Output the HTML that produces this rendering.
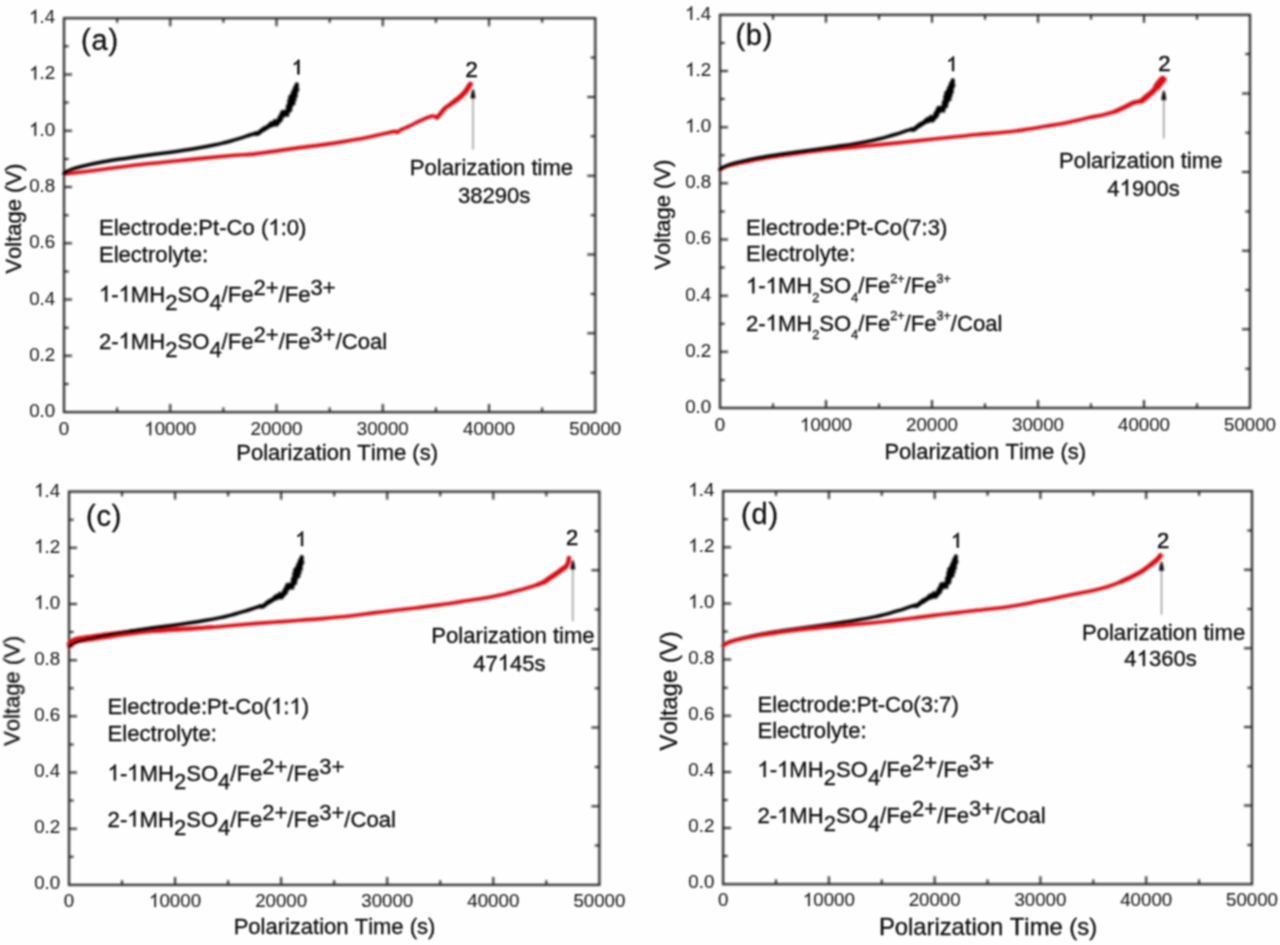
<!DOCTYPE html>
<html lang="en"><head><meta charset="utf-8"><title>Polarization curves</title>
<style>
html,body{margin:0;padding:0;background:#fefefe;}
body{width:1280px;height:945px;overflow:hidden;font-family:"Liberation Sans", sans-serif;}
svg{display:block;}
text{font-kerning:none;white-space:pre;}
</style></head><body>
<svg width="1280" height="945" viewBox="0 0 1280 945" font-family='"Liberation Sans", sans-serif' style="font-kerning:none">
<defs><filter id="soft" x="-2%" y="-2%" width="104%" height="104%"><feGaussianBlur stdDeviation="0.9"/></filter><filter id="softtext" x="-1%" y="-1%" width="102%" height="102%"><feConvolveMatrix order="3" kernelMatrix="1 2 1 2 4 2 1 2 1" divisor="16" edgeMode="none" preserveAlpha="false" result="a"/><feConvolveMatrix in="a" order="3" kernelMatrix="0 1 0 1 4 1 0 1 0" divisor="8" edgeMode="none" preserveAlpha="false"/></filter></defs>
<rect width="1280" height="945" fill="#fefefe"/>
<g filter="url(#soft)">
<g id="panel-a"><path d="M117.13 412.1 v-4.6 M117.13 18.2 v4.6 M170.26 412.1 v-8 M170.26 18.2 v8 M223.39 412.1 v-4.6 M223.39 18.2 v4.6 M276.52 412.1 v-8 M276.52 18.2 v8 M329.65 412.1 v-4.6 M329.65 18.2 v4.6 M382.78 412.1 v-8 M382.78 18.2 v8 M435.91 412.1 v-4.6 M435.91 18.2 v4.6 M489.04 412.1 v-8 M489.04 18.2 v8 M542.17 412.1 v-4.6 M542.17 18.2 v4.6 M64 383.96 h4.6 M64 355.83 h8 M64 327.69 h4.6 M64 299.56 h8 M64 271.42 h4.6 M64 243.29 h8 M64 215.15 h4.6 M64 187.01 h8 M64 158.88 h4.6 M64 130.74 h8 M64 102.61 h4.6 M64 74.47 h8 M64 46.34 h4.6 M595.3 372.71 h-4.6 M595.3 333.32 h-8 M595.3 293.93 h-4.6 M595.3 254.54 h-8 M595.3 215.15 h-4.6 M595.3 175.76 h-8 M595.3 136.37 h-4.6 M595.3 96.98 h-8 M595.3 57.59 h-4.6" stroke="#262626" stroke-width="2" fill="none"/>
<rect x="64" y="18.2" width="531.3" height="393.9" fill="none" stroke="#262626" stroke-width="2.2"/>
<path d="M64.2 174 C66.83 173.7 73.4 173 80 172.2 C86.6 171.4 92.55 170.6 103.8 169.2 C115.05 167.8 132.92 165.43 147.5 163.8 C162.08 162.17 176.72 160.83 191.3 159.4 C205.88 157.97 225.17 156.03 235 155.2 C244.83 154.37 243 155.17 250.3 154.4 C257.6 153.63 270.52 151.73 278.8 150.6 C287.08 149.47 292.82 148.55 300 147.6 C307.18 146.65 314.61 145.9 321.9 144.9 C329.19 143.9 336.47 142.8 343.75 141.6 C351.03 140.4 358.31 139.15 365.6 137.7 C372.89 136.25 382.57 133.95 387.5 132.9 C392.43 131.85 393.55 131.47 395.2 131.4 C396.85 131.33 396.5 132.75 397.4 132.5 C398.3 132.25 398.6 130.97 400.6 129.9 C402.6 128.83 406.12 127.65 409.4 126.1 C412.68 124.55 416.65 122.23 420.3 120.6 C423.95 118.97 428.93 117.02 431.3 116.3 C433.67 115.58 433.57 116.07 434.5 116.3 C435.43 116.53 435.98 118.03 436.9 117.7 C437.82 117.37 438.65 115.88 440 114.3 C441.35 112.72 443.38 109.77 445 108.2 C446.62 106.63 448.13 106.03 449.7 104.9 C451.27 103.77 452.83 102.57 454.4 101.4 C455.97 100.23 457.54 99.22 459.1 97.9 C460.66 96.58 462.5 94.82 463.75 93.5 C465 92.18 465.51 91.55 466.6 90 C467.69 88.45 469.68 85.17 470.3 84.2" stroke="#db0d14" stroke-width="3.6" fill="none" stroke-linejoin="round" stroke-linecap="round"/><path d="M436.9 117.7 C437.42 117.13 438.65 115.88 440 114.3 C441.35 112.72 443.38 109.77 445 108.2 C446.62 106.63 448.13 106.03 449.7 104.9 C451.27 103.77 452.83 102.57 454.4 101.4 C455.97 100.23 457.54 99.22 459.1 97.9 C460.66 96.58 462.5 94.82 463.75 93.5 C465 92.18 465.51 91.55 466.6 90 C467.69 88.45 469.68 85.17 470.3 84.2" stroke="#db0d14" stroke-width="4.3" fill="none" stroke-linejoin="round" stroke-linecap="round"/><path d="M454.4 101.4 C455.18 100.82 457.54 99.22 459.1 97.9 C460.66 96.58 462.5 94.82 463.75 93.5 C465 92.18 465.51 91.55 466.6 90 C467.69 88.45 469.68 85.17 470.3 84.2" stroke="#db0d14" stroke-width="5" fill="none" stroke-linejoin="round" stroke-linecap="round"/><path d="M64 173.5 C64.5 173.15 65.75 172.08 67 171.4 C68.25 170.72 69.1 170.22 71.5 169.4 C73.9 168.58 76.1 167.77 81.4 166.5 C86.7 165.23 96.02 163.15 103.3 161.8 C110.58 160.45 117.82 159.48 125.1 158.4 C132.38 157.32 139.7 156.3 147 155.3 C154.3 154.3 162.73 153.25 168.9 152.4 C175.07 151.55 178.88 150.98 184 150.2 C189.12 149.42 194.39 148.6 199.6 147.7 C204.81 146.8 211.18 145.62 215.25 144.8 C219.32 143.98 221.39 143.43 224 142.8 C226.61 142.17 228.4 141.7 230.9 141 C233.4 140.3 236.4 139.4 239 138.6 C241.6 137.8 244.42 136.88 246.5 136.2 C248.58 135.52 250.08 134.95 251.5 134.5 C252.92 134.05 254.42 133.67 255 133.5" stroke="#050505" stroke-width="3.5" fill="none" stroke-linejoin="round" stroke-linecap="round"/><path d="M255 133.5 L257.6 133.7 L259.6 132.3 L261.9 130.3 L266.6 127.4 L272.4 124.1 L275.6 122.7 L277.4 122.5 L279.4 119.8 L281.7 115.4 L283.4 112.9 L285 113.3 L286.6 113.5 L289.2 108.2 L291.8 101.2 L293.1 96.6 L295.3 91.5 L296.9 83.9" stroke="#050505" stroke-width="3.4" fill="none" stroke-linejoin="round" stroke-linecap="round"/><path d="M254.85 135.39 L256.15 135.53 L258.1 135.57 L259.76 134.52 L260.95 133.76 L261.94 132.78 L262.83 132.01 L263.89 131.54 L265.08 131.06 L266.14 130.31 L267.08 129.4 L268.34 129.04 L269.32 128.17 L270.36 127.38 L271.78 127.24 L272.96 126.8 L274.02 126.32 L275.15 125.87 L276.41 126.54 L277.52 126.16 L279.23 124.24 L280.32 122.54 L281.72 121.75 L282.36 120.35 L283.13 119.22 L282.63 117.49 L284.41 117.14 L285.43 116.49 L284.5 115.21 L284.13 117.04 L285.09 115.7 L288.61 116.65 L289.22 113.24 L289.82 112.08 L291.64 111.52 L291.9 110.11 L291.88 108.52 L292.34 107.24 L292.86 106.05 L293.58 104.93 L295.48 104.25 L294.87 102.52 L295.15 101.11 L296.72 100.18 L295.72 98.57 L296.27 97.6 L297.7 97.01 L297.21 95.39 L297.19 93.96 L297.87 92.58 L298.22 91.05 L299.35 89.91 L298.64 88.43 L298.27 87.03 L298.56 85.76 L298.48 84.42 L298.48 84.23 L295.32 83.57 L295.24 83.73 L294.64 84.94 L294.41 86.21 L293.05 87.26 L293.11 88.6 L292.68 89.79 L291.92 90.59 L291.36 91.44 L291.55 92.95 L290.41 93.87 L289.96 95.31 L288.23 96.39 L288.53 97.86 L288.67 99.22 L287.49 100.05 L287.32 101.22 L287.91 102.82 L287.29 103.98 L286.53 105.09 L286.05 106.2 L286.16 107.48 L286.14 108.82 L285.82 110.12 L284.98 111.15 L284.88 110.52 L285.78 110.54 L284.13 110.09 L281.04 110.65 L280.22 112.98 L279.48 114.23 L279.19 115.69 L277.88 116.47 L277.83 117.86 L277.16 118.75 L276.84 119.97 L276.15 120.25 L275.57 119.28 L274.08 119.17 L273.1 121.19 L271.58 121.19 L270.36 122 L269.1 122.53 L268.28 123.72 L267.3 124.63 L266.25 125.43 L265.11 126.14 L263.8 126.52 L262.65 127.13 L261.73 128.19 L260.42 128.85 L259.42 129.88 L258.46 130.62 L257.53 131.36 L257.08 131.82 L256.44 131.69 L255.15 131.61 Z" fill="#050505" stroke="#050505" stroke-width="0.6" stroke-linejoin="round"/>
<path d="M473 149.5 V95.4" stroke="#6e6e6e" stroke-width="1.05" fill="none"/>
<path d="M473 88.4 q1.9 2.4 2.4 10.2 h-4.8 q0.5 -7.8 2.4 -10.2 z" fill="#0c0c0c"/></g>
<g id="panel-b"><path d="M773 408 v-4.6 M773 14.8 v4.6 M826 408 v-8 M826 14.8 v8 M879 408 v-4.6 M879 14.8 v4.6 M932 408 v-8 M932 14.8 v8 M985 408 v-4.6 M985 14.8 v4.6 M1038 408 v-8 M1038 14.8 v8 M1091 408 v-4.6 M1091 14.8 v4.6 M1144 408 v-8 M1144 14.8 v8 M1197 408 v-4.6 M1197 14.8 v4.6 M720 379.91 h4.6 M720 351.83 h8 M720 323.74 h4.6 M720 295.66 h8 M720 267.57 h4.6 M720 239.49 h8 M720 211.4 h4.6 M720 183.31 h8 M720 155.23 h4.6 M720 127.14 h8 M720 99.06 h4.6 M720 70.97 h8 M720 42.89 h4.6 M1250 368.68 h-4.6 M1250 329.36 h-8 M1250 290.04 h-4.6 M1250 250.72 h-8 M1250 211.4 h-4.6 M1250 172.08 h-8 M1250 132.76 h-4.6 M1250 93.44 h-8 M1250 54.12 h-4.6" stroke="#262626" stroke-width="2" fill="none"/>
<rect x="720" y="14.8" width="530" height="393.2" fill="none" stroke="#262626" stroke-width="2.2"/>
<path d="M720 169.6 C720.67 169.23 722.67 168.03 724 167.4 C725.33 166.77 725.85 166.4 728 165.8 C730.15 165.2 731.77 164.9 736.9 163.8 C742.02 162.7 751.47 160.53 758.75 159.2 C766.03 157.87 773.31 156.88 780.6 155.8 C787.89 154.72 795.2 153.68 802.5 152.7 C809.8 151.72 817.1 150.7 824.4 149.9 C831.7 149.1 839.02 148.58 846.3 147.9 C853.58 147.22 860.82 146.52 868.1 145.8 C875.38 145.08 882.7 144.33 890 143.6 C897.3 142.87 904.61 142.17 911.9 141.4 C919.19 140.63 926.47 139.77 933.75 139 C941.03 138.23 948.31 137.55 955.6 136.8 C962.89 136.05 969.78 135.22 977.5 134.5 C985.22 133.78 994.19 133.27 1001.9 132.5 C1009.61 131.73 1016.47 130.93 1023.75 129.9 C1031.03 128.87 1038.31 127.55 1045.6 126.3 C1052.89 125.05 1060.2 123.85 1067.5 122.4 C1074.8 120.95 1083.2 118.92 1089.4 117.6 C1095.6 116.28 1100.33 115.55 1104.7 114.5 C1109.07 113.45 1112.32 112.5 1115.6 111.3 C1118.88 110.1 1121.48 108.7 1124.4 107.3 C1127.32 105.9 1130.75 103.85 1133.1 102.9 C1135.45 101.95 1137.03 101.96 1138.5 101.6 C1139.97 101.24 1140.6 101.52 1141.9 100.75 C1143.2 99.98 1144.48 98.53 1146.3 97 C1148.12 95.47 1150.98 93.38 1152.8 91.6 C1154.62 89.82 1155.92 87.9 1157.2 86.3 C1158.48 84.7 1159.6 83.12 1160.5 82 C1161.4 80.88 1162.25 80 1162.6 79.6" stroke="#db0d14" stroke-width="3.6" fill="none" stroke-linejoin="round" stroke-linecap="round"/><path d="M1115.6 111.3 C1117.07 110.63 1121.48 108.7 1124.4 107.3 C1127.32 105.9 1130.75 103.85 1133.1 102.9 C1135.45 101.95 1137.03 101.96 1138.5 101.6 C1139.97 101.24 1140.6 101.52 1141.9 100.75 C1143.2 99.98 1144.48 98.53 1146.3 97 C1148.12 95.47 1150.98 93.38 1152.8 91.6 C1154.62 89.82 1155.92 87.9 1157.2 86.3 C1158.48 84.7 1159.6 83.12 1160.5 82 C1161.4 80.88 1162.25 80 1162.6 79.6" stroke="#db0d14" stroke-width="4.5" fill="none" stroke-linejoin="round" stroke-linecap="round"/><path d="M1141.9 100.75 C1142.63 100.12 1144.48 98.53 1146.3 97 C1148.12 95.47 1150.98 93.38 1152.8 91.6 C1154.62 89.82 1155.92 87.9 1157.2 86.3 C1158.48 84.7 1159.6 83.12 1160.5 82 C1161.4 80.88 1162.25 80 1162.6 79.6" stroke="#db0d14" stroke-width="5.6" fill="none" stroke-linejoin="round" stroke-linecap="round"/><path d="M1157.2 86.3 C1157.75 85.58 1159.6 83.12 1160.5 82 C1161.4 80.88 1162.25 80 1162.6 79.6" stroke="#db0d14" stroke-width="7.4" fill="none" stroke-linejoin="round" stroke-linecap="round"/><path d="M720 169.4 C720.5 169.05 721.75 167.98 723 167.3 C724.25 166.62 725.1 166.12 727.5 165.3 C729.9 164.48 732.1 163.67 737.4 162.4 C742.7 161.13 752.02 159.05 759.3 157.7 C766.58 156.35 773.82 155.38 781.1 154.3 C788.38 153.22 795.7 152.2 803 151.2 C810.3 150.2 818.73 149.15 824.9 148.3 C831.07 147.45 834.88 146.88 840 146.1 C845.12 145.32 850.39 144.5 855.6 143.6 C860.81 142.7 867.18 141.52 871.25 140.7 C875.32 139.88 877.39 139.33 880 138.7 C882.61 138.07 884.4 137.6 886.9 136.9 C889.4 136.2 892.4 135.3 895 134.5 C897.6 133.7 900.42 132.78 902.5 132.1 C904.58 131.42 906.08 130.85 907.5 130.4 C908.92 129.95 910.42 129.57 911 129.4" stroke="#050505" stroke-width="3.5" fill="none" stroke-linejoin="round" stroke-linecap="round"/><path d="M911 129.4 L913.6 129.6 L915.6 128.2 L917.9 126.2 L922.6 123.3 L928.4 120 L931.6 118.6 L933.4 118.4 L935.4 115.7 L937.7 111.3 L939.4 108.8 L941 109.2 L942.6 109.4 L945.2 104.1 L947.8 97.1 L949.1 92.5 L951.3 87.4 L952.9 79.8" stroke="#050505" stroke-width="3.4" fill="none" stroke-linejoin="round" stroke-linecap="round"/><path d="M910.85 131.29 L912.15 131.43 L914.1 131.47 L915.76 130.42 L916.95 129.66 L917.94 128.68 L918.83 127.91 L919.89 127.44 L921.08 126.96 L922.14 126.21 L923.08 125.3 L924.34 124.94 L925.32 124.07 L926.36 123.28 L927.78 123.14 L928.96 122.7 L930.02 122.22 L931.15 121.77 L932.41 122.44 L933.52 122.06 L935.23 120.14 L936.32 118.44 L937.72 117.65 L938.36 116.25 L939.13 115.12 L938.63 113.39 L940.41 113.04 L941.43 112.39 L940.5 111.11 L940.13 112.94 L941.09 111.6 L944.61 112.55 L945.22 109.14 L945.82 107.98 L947.64 107.42 L947.9 106.01 L947.88 104.42 L948.34 103.14 L948.86 101.95 L949.58 100.83 L951.48 100.15 L950.87 98.42 L951.15 97.01 L952.72 96.08 L951.72 94.47 L952.27 93.5 L953.7 92.91 L953.21 91.29 L953.19 89.86 L953.87 88.48 L954.22 86.95 L955.35 85.81 L954.64 84.33 L954.27 82.93 L954.56 81.66 L954.48 80.32 L954.48 80.13 L951.32 79.47 L951.24 79.63 L950.64 80.84 L950.41 82.11 L949.05 83.16 L949.11 84.5 L948.68 85.69 L947.92 86.49 L947.36 87.34 L947.55 88.85 L946.41 89.77 L945.96 91.21 L944.23 92.29 L944.53 93.76 L944.67 95.12 L943.49 95.95 L943.32 97.12 L943.91 98.72 L943.29 99.88 L942.53 100.99 L942.05 102.1 L942.16 103.38 L942.14 104.72 L941.82 106.02 L940.98 107.05 L940.88 106.42 L941.78 106.44 L940.13 105.99 L937.04 106.55 L936.22 108.88 L935.48 110.13 L935.19 111.59 L933.88 112.37 L933.83 113.76 L933.16 114.65 L932.84 115.87 L932.15 116.15 L931.57 115.18 L930.08 115.07 L929.1 117.09 L927.58 117.09 L926.36 117.9 L925.1 118.43 L924.28 119.62 L923.3 120.53 L922.25 121.33 L921.11 122.04 L919.8 122.42 L918.65 123.03 L917.73 124.09 L916.42 124.75 L915.42 125.78 L914.46 126.52 L913.53 127.26 L913.08 127.72 L912.44 127.59 L911.15 127.51 Z" fill="#050505" stroke="#050505" stroke-width="0.6" stroke-linejoin="round"/>
<path d="M1163.8 138.6 V97" stroke="#6e6e6e" stroke-width="1.05" fill="none"/>
<path d="M1163.8 90 q1.9 2.4 2.4 10.2 h-4.8 q0.5 -7.8 2.4 -10.2 z" fill="#0c0c0c"/></g>
<g id="panel-c"><path d="M122.04 884.9 v-4.6 M122.04 491.6 v4.6 M175.08 884.9 v-8 M175.08 491.6 v8 M228.12 884.9 v-4.6 M228.12 491.6 v4.6 M281.16 884.9 v-8 M281.16 491.6 v8 M334.2 884.9 v-4.6 M334.2 491.6 v4.6 M387.24 884.9 v-8 M387.24 491.6 v8 M440.28 884.9 v-4.6 M440.28 491.6 v4.6 M493.32 884.9 v-8 M493.32 491.6 v8 M546.36 884.9 v-4.6 M546.36 491.6 v4.6 M69 856.81 h4.6 M69 828.71 h8 M69 800.62 h4.6 M69 772.53 h8 M69 744.44 h4.6 M69 716.34 h8 M69 688.25 h4.6 M69 660.16 h8 M69 632.06 h4.6 M69 603.97 h8 M69 575.88 h4.6 M69 547.79 h8 M69 519.69 h4.6 M599.4 845.57 h-4.6 M599.4 806.24 h-8 M599.4 766.91 h-4.6 M599.4 727.58 h-8 M599.4 688.25 h-4.6 M599.4 648.92 h-8 M599.4 609.59 h-4.6 M599.4 570.26 h-8 M599.4 530.93 h-4.6" stroke="#262626" stroke-width="2" fill="none"/>
<rect x="69" y="491.6" width="530.4" height="393.3" fill="none" stroke="#262626" stroke-width="2.2"/>
<path d="M71.8 648.21 L73.42 646.02 L74.9 644.53 L76.84 643.72 L79.26 643.11 L82.06 642.76 L85.07 642.32 L88.04 641.87 L91.01 641.43 L93.98 640.98 L96.94 640.54 L99.91 640.09 L102.86 639.61 L105.81 639.15 L108.77 638.69 L111.74 638.24 L114.7 637.78 L117.67 637.33 L120.63 636.87 L123.59 636.42 L126.51 635.99 L129.45 635.63 L132.43 635.27 L135.41 634.91 L138.39 634.55 L141.37 634.19 L144.34 633.83 L147.26 633.47 L150.19 633.25 L153.17 633.05 L156.16 632.85 L159.15 632.65 L162.15 632.45 L165.14 632.25 L168.14 632.05 L171.14 631.83 L174.14 631.61 L177.13 631.38 L180.12 631.15 L183.12 630.92 L186.11 630.7 L189.1 630.47 L192.11 630.23 L195.11 629.94 L198.1 629.66 L201.09 629.38 L204.07 629.09 L207.06 628.81 L210.05 628.54 L213.04 628.29 L213.22 628.27 L212.98 625.13 L212.79 625.14 L209.8 625.36 L206.81 625.55 L203.81 625.73 L200.82 625.92 L197.82 626.1 L194.83 626.29 L191.85 626.47 L188.87 626.61 L185.87 626.74 L182.88 626.86 L179.88 626.99 L176.88 627.12 L173.88 627.25 L170.89 627.37 L167.9 627.49 L164.91 627.59 L161.91 627.69 L158.91 627.79 L155.91 627.89 L152.91 627.99 L149.9 628.09 L146.84 628.23 L143.79 628.5 L140.8 628.76 L137.81 629.03 L134.82 629.29 L131.83 629.56 L128.84 629.83 L125.82 630.1 L122.79 630.45 L119.8 630.81 L116.82 631.17 L113.84 631.53 L110.87 631.89 L107.89 632.25 L104.9 632.61 L101.91 632.99 L98.93 633.38 L95.96 633.79 L92.99 634.22 L90.02 634.64 L87.05 635.07 L84.08 635.49 L81.15 635.91 L78 636.29 L74.6 637.14 L71.04 638.73 L68.19 641.38 L66.2 643.99 Z" fill="#db0d14"/><path d="M69 646.6 C69.27 646.23 69.92 645.17 70.6 644.4 C71.28 643.63 72.03 642.67 73.1 642 C74.17 641.33 75.53 640.77 77 640.4 C78.47 640.03 79.27 640.17 81.9 639.8 C84.53 639.43 89.16 638.73 92.8 638.2 C96.44 637.67 98.28 637.37 103.75 636.6 C109.22 635.83 118.31 634.48 125.6 633.6 C132.89 632.72 140.2 631.87 147.5 631.3 C154.8 630.73 162.1 630.6 169.4 630.2 C176.7 629.8 184.02 629.4 191.3 628.9 C198.58 628.4 205.82 627.82 213.1 627.2 C220.38 626.58 227.7 625.83 235 625.2 C242.3 624.57 249.61 623.95 256.9 623.4 C264.19 622.85 271.47 622.43 278.75 621.9 C286.03 621.37 293.31 620.75 300.6 620.2 C307.89 619.65 313.95 619.33 322.5 618.6 C331.05 617.87 343.36 616.75 351.9 615.8 C360.44 614.85 366.47 613.82 373.75 612.9 C381.03 611.98 388.31 611.17 395.6 610.3 C402.89 609.43 410.2 608.6 417.5 607.7 C424.8 606.8 432.1 605.92 439.4 604.9 C446.7 603.88 454.02 602.7 461.3 601.6 C468.58 600.5 475.82 599.58 483.1 598.3 C490.38 597.02 499.53 595.1 505 593.9 C510.47 592.7 512.25 592.08 515.9 591.1 C519.55 590.12 523.25 589.1 526.9 588 C530.55 586.9 534.88 585.52 537.8 584.5 C540.72 583.48 542.57 582.85 544.4 581.9 C546.23 580.95 546.93 580.05 548.75 578.8 C550.57 577.55 553.11 575.93 555.3 574.4 C557.49 572.87 560.15 570.87 561.9 569.6 C563.65 568.33 564.85 567.77 565.8 566.8 C566.75 565.83 567.15 564.8 567.6 563.8 C568.05 562.8 568.28 561.8 568.5 560.8 C568.72 559.8 568.83 558.3 568.9 557.8" stroke="#db0d14" stroke-width="3.6" fill="none" stroke-linejoin="round" stroke-linecap="round"/><path d="M537.8 584.5 C538.9 584.07 542.57 582.85 544.4 581.9 C546.23 580.95 546.93 580.05 548.75 578.8 C550.57 577.55 553.11 575.93 555.3 574.4 C557.49 572.87 560.15 570.87 561.9 569.6 C563.65 568.33 564.85 567.77 565.8 566.8 C566.75 565.83 567.15 564.8 567.6 563.8 C568.05 562.8 568.28 561.8 568.5 560.8 C568.72 559.8 568.83 558.3 568.9 557.8" stroke="#db0d14" stroke-width="4.3" fill="none" stroke-linejoin="round" stroke-linecap="round"/><path d="M544.4 581.9 C545.12 581.38 546.93 580.05 548.75 578.8 C550.57 577.55 553.11 575.93 555.3 574.4 C557.49 572.87 560.15 570.87 561.9 569.6 C563.65 568.33 565.15 567.27 565.8 566.8" stroke="#db0d14" stroke-width="5" fill="none" stroke-linejoin="round" stroke-linecap="round"/><path d="M69 646.3 C69.5 645.95 70.75 644.88 72 644.2 C73.25 643.52 74.1 643.02 76.5 642.2 C78.9 641.38 81.1 640.57 86.4 639.3 C91.7 638.03 101.02 635.95 108.3 634.6 C115.58 633.25 122.82 632.28 130.1 631.2 C137.38 630.12 148.35 628.62 152 628.1" stroke="#050505" stroke-width="2.7" fill="none" stroke-linejoin="round" stroke-linecap="round"/><path d="M130.1 631.2 C133.75 630.68 144.7 629.1 152 628.1 C159.3 627.1 167.73 626.05 173.9 625.2 C180.07 624.35 183.88 623.78 189 623 C194.12 622.22 199.39 621.4 204.6 620.5 C209.81 619.6 216.18 618.42 220.25 617.6 C224.32 616.78 226.39 616.23 229 615.6 C231.61 614.97 233.4 614.5 235.9 613.8 C238.4 613.1 241.4 612.2 244 611.4 C246.6 610.6 249.42 609.68 251.5 609 C253.58 608.32 255.08 607.75 256.5 607.3 C257.92 606.85 259.42 606.47 260 606.3" stroke="#050505" stroke-width="3.5" fill="none" stroke-linejoin="round" stroke-linecap="round"/><path d="M260 606.3 L262.6 606.5 L264.6 605.1 L266.9 603.1 L271.6 600.2 L277.4 596.9 L280.6 595.5 L282.4 595.3 L284.4 592.6 L286.7 588.2 L288.4 585.7 L290 586.1 L291.6 586.3 L294.2 581 L296.8 574 L298.1 569.4 L300.3 564.3 L301.9 556.7" stroke="#050505" stroke-width="3.4" fill="none" stroke-linejoin="round" stroke-linecap="round"/><path d="M259.85 608.19 L261.15 608.33 L263.1 608.37 L264.76 607.32 L265.95 606.56 L266.94 605.58 L267.83 604.81 L268.89 604.34 L270.08 603.86 L271.14 603.11 L272.08 602.2 L273.34 601.84 L274.32 600.97 L275.36 600.18 L276.78 600.04 L277.96 599.6 L279.02 599.12 L280.15 598.67 L281.41 599.34 L282.52 598.96 L284.23 597.04 L285.32 595.34 L286.72 594.55 L287.36 593.15 L288.13 592.02 L287.63 590.29 L289.41 589.94 L290.43 589.29 L289.5 588.01 L289.13 589.84 L290.09 588.5 L293.61 589.45 L294.22 586.04 L294.82 584.88 L296.64 584.32 L296.9 582.91 L296.88 581.32 L297.34 580.04 L297.86 578.85 L298.58 577.73 L300.48 577.05 L299.87 575.32 L300.15 573.91 L301.72 572.98 L300.72 571.37 L301.27 570.4 L302.7 569.81 L302.21 568.19 L302.19 566.76 L302.87 565.38 L303.22 563.85 L304.35 562.71 L303.64 561.23 L303.27 559.83 L303.56 558.56 L303.48 557.22 L303.48 557.03 L300.32 556.37 L300.24 556.53 L299.64 557.74 L299.41 559.01 L298.05 560.06 L298.11 561.4 L297.68 562.59 L296.92 563.39 L296.36 564.24 L296.55 565.75 L295.41 566.67 L294.96 568.11 L293.23 569.19 L293.53 570.66 L293.67 572.02 L292.49 572.85 L292.32 574.02 L292.91 575.62 L292.29 576.78 L291.53 577.89 L291.05 579 L291.16 580.28 L291.14 581.62 L290.82 582.92 L289.98 583.95 L289.88 583.32 L290.78 583.34 L289.13 582.89 L286.04 583.45 L285.22 585.78 L284.48 587.03 L284.19 588.49 L282.88 589.27 L282.83 590.66 L282.16 591.55 L281.84 592.77 L281.15 593.05 L280.57 592.08 L279.08 591.97 L278.1 593.99 L276.58 593.99 L275.36 594.8 L274.1 595.33 L273.28 596.52 L272.3 597.43 L271.25 598.23 L270.11 598.94 L268.8 599.32 L267.65 599.93 L266.73 600.99 L265.42 601.65 L264.42 602.68 L263.46 603.42 L262.53 604.16 L262.08 604.62 L261.44 604.49 L260.15 604.41 Z" fill="#050505" stroke="#050505" stroke-width="0.6" stroke-linejoin="round"/>
<path d="M572.8 621.3 V566.4" stroke="#6e6e6e" stroke-width="1.05" fill="none"/>
<path d="M572.8 559.4 q1.9 2.4 2.4 10.2 h-4.8 q0.5 -7.8 2.4 -10.2 z" fill="#0c0c0c"/></g>
<g id="panel-d"><path d="M775.99 884.2 v-4.6 M775.99 491.1 v4.6 M828.88 884.2 v-8 M828.88 491.1 v8 M881.77 884.2 v-4.6 M881.77 491.1 v4.6 M934.66 884.2 v-8 M934.66 491.1 v8 M987.55 884.2 v-4.6 M987.55 491.1 v4.6 M1040.44 884.2 v-8 M1040.44 491.1 v8 M1093.33 884.2 v-4.6 M1093.33 491.1 v4.6 M1146.22 884.2 v-8 M1146.22 491.1 v8 M1199.11 884.2 v-4.6 M1199.11 491.1 v4.6 M723.1 856.12 h4.6 M723.1 828.04 h8 M723.1 799.96 h4.6 M723.1 771.89 h8 M723.1 743.81 h4.6 M723.1 715.73 h8 M723.1 687.65 h4.6 M723.1 659.57 h8 M723.1 631.49 h4.6 M723.1 603.41 h8 M723.1 575.34 h4.6 M723.1 547.26 h8 M723.1 519.18 h4.6 M1252 844.89 h-4.6 M1252 805.58 h-8 M1252 766.27 h-4.6 M1252 726.96 h-8 M1252 687.65 h-4.6 M1252 648.34 h-8 M1252 609.03 h-4.6 M1252 569.72 h-8 M1252 530.41 h-4.6" stroke="#262626" stroke-width="2" fill="none"/>
<rect x="723.1" y="491.1" width="528.9" height="393.1" fill="none" stroke="#262626" stroke-width="2.2"/>
<path d="M723.1 645.6 C723.6 645.25 724.85 644.18 726.1 643.5 C727.35 642.82 728.2 642.32 730.6 641.5 C733 640.68 735.2 639.87 740.5 638.6 C745.8 637.33 755.12 635.25 762.4 633.9 C769.68 632.55 776.92 631.58 784.2 630.5 C791.48 629.42 798.8 628.4 806.1 627.4 C813.4 626.4 821.83 625.35 828 624.5 C834.17 623.65 837.98 623.08 843.1 622.3 C848.22 621.52 853.49 620.7 858.7 619.8 C863.91 618.9 870.28 617.72 874.35 616.9 C878.42 616.08 880.49 615.53 883.1 614.9 C885.71 614.27 887.5 613.8 890 613.1 C892.5 612.4 895.5 611.5 898.1 610.7 C900.7 609.9 903.52 608.98 905.6 608.3 C907.68 607.62 909.18 607.05 910.6 606.6 C912.02 606.15 913.52 605.77 914.1 605.6" stroke="#050505" stroke-width="3.5" fill="none" stroke-linejoin="round" stroke-linecap="round"/><path d="M914.1 605.6 L916.7 605.8 L918.7 604.4 L921 602.4 L925.7 599.5 L931.5 596.2 L934.7 594.8 L936.5 594.6 L938.5 591.9 L940.8 587.5 L942.5 585 L944.1 585.4 L945.7 585.6 L948.3 580.3 L950.9 573.3 L952.2 568.7 L954.4 563.6 L956 556" stroke="#050505" stroke-width="3.4" fill="none" stroke-linejoin="round" stroke-linecap="round"/><path d="M913.95 607.49 L915.25 607.63 L917.2 607.67 L918.86 606.62 L920.05 605.86 L921.04 604.88 L921.93 604.11 L922.99 603.64 L924.18 603.16 L925.24 602.41 L926.18 601.5 L927.44 601.14 L928.42 600.27 L929.46 599.48 L930.88 599.34 L932.06 598.9 L933.12 598.42 L934.25 597.97 L935.51 598.64 L936.62 598.26 L938.33 596.34 L939.42 594.64 L940.82 593.85 L941.46 592.45 L942.23 591.32 L941.73 589.59 L943.51 589.24 L944.53 588.59 L943.6 587.31 L943.23 589.14 L944.19 587.8 L947.71 588.75 L948.32 585.34 L948.92 584.18 L950.74 583.62 L951 582.21 L950.98 580.62 L951.44 579.34 L951.96 578.15 L952.68 577.03 L954.58 576.35 L953.97 574.62 L954.25 573.21 L955.82 572.28 L954.82 570.67 L955.37 569.7 L956.8 569.11 L956.31 567.49 L956.29 566.06 L956.97 564.68 L957.32 563.15 L958.45 562.01 L957.74 560.53 L957.37 559.13 L957.66 557.86 L957.58 556.52 L957.58 556.33 L954.42 555.67 L954.34 555.83 L953.74 557.04 L953.51 558.31 L952.15 559.36 L952.21 560.7 L951.78 561.89 L951.02 562.69 L950.46 563.54 L950.65 565.05 L949.51 565.97 L949.06 567.41 L947.33 568.49 L947.63 569.96 L947.77 571.32 L946.59 572.15 L946.42 573.32 L947.01 574.92 L946.39 576.08 L945.63 577.19 L945.15 578.3 L945.26 579.58 L945.24 580.92 L944.92 582.22 L944.08 583.25 L943.98 582.62 L944.88 582.64 L943.23 582.19 L940.14 582.75 L939.32 585.08 L938.58 586.33 L938.29 587.79 L936.98 588.57 L936.93 589.96 L936.26 590.85 L935.94 592.07 L935.25 592.35 L934.67 591.38 L933.18 591.27 L932.2 593.29 L930.68 593.29 L929.46 594.1 L928.2 594.63 L927.38 595.82 L926.4 596.73 L925.35 597.53 L924.21 598.24 L922.9 598.62 L921.75 599.23 L920.83 600.29 L919.52 600.95 L918.52 601.98 L917.56 602.72 L916.63 603.46 L916.18 603.92 L915.54 603.79 L914.25 603.71 Z" fill="#050505" stroke="#050505" stroke-width="0.6" stroke-linejoin="round"/><path d="M723.2 645.8 C723.58 645.5 724.68 644.52 725.5 644 C726.32 643.48 726.2 643.38 728.1 642.7 C730 642.02 731.79 641.1 736.9 639.9 C742.01 638.7 751.47 636.78 758.75 635.5 C766.03 634.22 773.31 633.22 780.6 632.2 C787.89 631.18 795.2 630.22 802.5 629.4 C809.8 628.58 817.1 627.98 824.4 627.3 C831.7 626.62 839.02 625.98 846.3 625.3 C853.58 624.62 860.82 623.93 868.1 623.2 C875.38 622.47 882.7 621.72 890 620.9 C897.3 620.08 904.61 619.22 911.9 618.3 C919.19 617.38 926.47 616.3 933.75 615.4 C941.03 614.5 948.31 613.75 955.6 612.9 C962.89 612.05 968.95 611.28 977.5 610.3 C986.05 609.32 998.36 608.17 1006.9 607 C1015.44 605.83 1021.47 604.65 1028.75 603.3 C1036.03 601.95 1043.31 600.35 1050.6 598.9 C1057.89 597.45 1065.2 596.05 1072.5 594.6 C1079.8 593.15 1088.57 591.52 1094.4 590.2 C1100.23 588.88 1103.13 588.08 1107.5 586.7 C1111.87 585.32 1116.22 583.73 1120.6 581.9 C1124.97 580.07 1130.1 577.58 1133.75 575.75 C1137.4 573.92 1139.58 572.79 1142.5 570.9 C1145.42 569.01 1148.88 566.22 1151.25 564.4 C1153.62 562.58 1155.16 561.47 1156.7 560 C1158.24 558.53 1159.87 556.33 1160.5 555.6" stroke="#db0d14" stroke-width="3.6" fill="none" stroke-linejoin="round" stroke-linecap="round"/><path d="M1120.6 581.9 C1122.79 580.88 1130.1 577.58 1133.75 575.75 C1137.4 573.92 1139.58 572.79 1142.5 570.9 C1145.42 569.01 1148.88 566.22 1151.25 564.4 C1153.62 562.58 1155.16 561.47 1156.7 560 C1158.24 558.53 1159.87 556.33 1160.5 555.6" stroke="#db0d14" stroke-width="4.4" fill="none" stroke-linejoin="round" stroke-linecap="round"/><path d="M1151.25 564.4 C1152.16 563.67 1155.16 561.47 1156.7 560 C1158.24 558.53 1159.87 556.33 1160.5 555.6" stroke="#db0d14" stroke-width="4.7" fill="none" stroke-linejoin="round" stroke-linecap="round"/>
<path d="M1161.5 614.7 V567.9" stroke="#6e6e6e" stroke-width="1.05" fill="none"/>
<path d="M1161.5 560.9 q1.9 2.4 2.4 10.2 h-4.8 q0.5 -7.8 2.4 -10.2 z" fill="#0c0c0c"/></g>
</g>
<g filter="url(#softtext)"><g id="text-a"><text x="58.8" y="435.3" font-size="18.7" fill="#1e1e1e" stroke="#1e1e1e" stroke-width="0.12">0</text>
<path transform="translate(144.26 435.3) scale(0.00913 -0.00913)" d="M763 0H583V1147Q518 1085 412.5 1023T223 930V1104Q374 1175 487 1276T647 1472H763Z" fill="#1e1e1e" stroke="#1e1e1e" stroke-width="13.14"/><text x="154.66" y="435.3" font-size="18.7" fill="#1e1e1e" stroke="#1e1e1e" stroke-width="0.12">0000</text>
<text x="250.52" y="435.3" font-size="18.7" fill="#1e1e1e" stroke="#1e1e1e" stroke-width="0.12">20000</text>
<text x="356.78" y="435.3" font-size="18.7" fill="#1e1e1e" stroke="#1e1e1e" stroke-width="0.12">30000</text>
<text x="463.04" y="435.3" font-size="18.7" fill="#1e1e1e" stroke="#1e1e1e" stroke-width="0.12">40000</text>
<text x="569.3" y="435.3" font-size="18.7" fill="#1e1e1e" stroke="#1e1e1e" stroke-width="0.12">50000</text>
<text x="29.2" y="417.1" font-size="18.7" fill="#1e1e1e" stroke="#1e1e1e" stroke-width="0.12">0.0</text>
<text x="29.2" y="360.83" font-size="18.7" fill="#1e1e1e" stroke="#1e1e1e" stroke-width="0.12">0.2</text>
<text x="29.2" y="304.56" font-size="18.7" fill="#1e1e1e" stroke="#1e1e1e" stroke-width="0.12">0.4</text>
<text x="29.2" y="248.29" font-size="18.7" fill="#1e1e1e" stroke="#1e1e1e" stroke-width="0.12">0.6</text>
<text x="29.2" y="192.01" font-size="18.7" fill="#1e1e1e" stroke="#1e1e1e" stroke-width="0.12">0.8</text>
<path transform="translate(29.2 135.74) scale(0.00913 -0.00913)" d="M763 0H583V1147Q518 1085 412.5 1023T223 930V1104Q374 1175 487 1276T647 1472H763Z" fill="#1e1e1e" stroke="#1e1e1e" stroke-width="13.14"/><text x="39.6" y="135.74" font-size="18.7" fill="#1e1e1e" stroke="#1e1e1e" stroke-width="0.12">.0</text>
<path transform="translate(29.2 79.47) scale(0.00913 -0.00913)" d="M763 0H583V1147Q518 1085 412.5 1023T223 930V1104Q374 1175 487 1276T647 1472H763Z" fill="#1e1e1e" stroke="#1e1e1e" stroke-width="13.14"/><text x="39.6" y="79.47" font-size="18.7" fill="#1e1e1e" stroke="#1e1e1e" stroke-width="0.12">.2</text>
<path transform="translate(29.2 23.2) scale(0.00913 -0.00913)" d="M763 0H583V1147Q518 1085 412.5 1023T223 930V1104Q374 1175 487 1276T647 1472H763Z" fill="#1e1e1e" stroke="#1e1e1e" stroke-width="13.14"/><text x="39.6" y="23.2" font-size="18.7" fill="#1e1e1e" stroke="#1e1e1e" stroke-width="0.12">.4</text>
<g transform="translate(21.2 218.6) rotate(-90)"><text x="-55.03" y="0" font-size="22" fill="#111111" stroke="#111111" stroke-width="0.32">Voltage (V)</text></g>
<text x="236.24" y="460.2" font-size="22" fill="#111111" stroke="#111111" stroke-width="0.32">Polarization Time (s)</text>
<text x="81" y="49.5" font-size="29" fill="#111111" stroke="#111111" stroke-width="0.3" letter-spacing="0.8">(a)</text>
<path transform="translate(291.79 74.3) scale(0.00986 -0.00986)" d="M763 0H583V1147Q518 1085 412.5 1023T223 930V1104Q374 1175 487 1276T647 1472H763Z" fill="#0a0a0a" stroke="#0a0a0a" stroke-width="50.69"/>
<text x="465.38" y="77.2" font-size="22" fill="#0a0a0a" stroke="#0a0a0a" stroke-width="0.5">2</text>
<text x="409.82" y="175.2" font-size="22.1" fill="#111111" stroke="#111111" stroke-width="0.32">Polarization time</text>
<text x="457.95" y="202.6" font-size="22.1" fill="#111111" stroke="#111111" stroke-width="0.32">38290s</text>
<text x="98.9" y="235" font-size="22.1" fill="#111111" stroke="#111111" stroke-width="0.32">Electrode:Pt-Co (</text><path transform="translate(268.39 235) scale(0.01079 -0.01079)" d="M763 0H583V1147Q518 1085 412.5 1023T223 930V1104Q374 1175 487 1276T647 1472H763Z" fill="#111111" stroke="#111111" stroke-width="29.65"/><text x="280.69" y="235" font-size="22.1" fill="#111111" stroke="#111111" stroke-width="0.32">:0)</text>
<text x="98.9" y="261.7" font-size="22.1" fill="#111111" stroke="#111111" stroke-width="0.32">Electrolyte:</text>
<path transform="translate(98.9 301.6) scale(0.01079 -0.01079)" d="M763 0H583V1147Q518 1085 412.5 1023T223 930V1104Q374 1175 487 1276T647 1472H763Z" fill="#111111" stroke="#111111" stroke-width="29.65"/><text x="111.19" y="301.6" font-size="22.1" fill="#111111" stroke="#111111" stroke-width="0.32">-</text><path transform="translate(118.55 301.6) scale(0.01079 -0.01079)" d="M763 0H583V1147Q518 1085 412.5 1023T223 930V1104Q374 1175 487 1276T647 1472H763Z" fill="#111111" stroke="#111111" stroke-width="29.65"/><text x="130.84" y="301.6" font-size="22.1" fill="#111111" stroke="#111111" stroke-width="0.32">MH</text><text x="165.21" y="309.8" font-size="22" fill="#111111" stroke="#111111" stroke-width="0.32">2</text><text x="177.45" y="301.6" font-size="22.1" fill="#111111" stroke="#111111" stroke-width="0.32">SO</text><text x="209.38" y="309.8" font-size="22" fill="#111111" stroke="#111111" stroke-width="0.32">4</text><text x="221.61" y="301.6" font-size="22.1" fill="#111111" stroke="#111111" stroke-width="0.32">/Fe</text><text x="253.54" y="294.6" font-size="22" fill="#111111" stroke="#111111" stroke-width="0.32">2+</text><text x="278.63" y="301.6" font-size="22.1" fill="#111111" stroke="#111111" stroke-width="0.32">/Fe</text><text x="310.56" y="294.6" font-size="22" fill="#111111" stroke="#111111" stroke-width="0.32">3+</text>
<text x="98.9" y="348.5" font-size="22.1" fill="#111111" stroke="#111111" stroke-width="0.32">2-</text><path transform="translate(118.55 348.5) scale(0.01079 -0.01079)" d="M763 0H583V1147Q518 1085 412.5 1023T223 930V1104Q374 1175 487 1276T647 1472H763Z" fill="#111111" stroke="#111111" stroke-width="29.65"/><text x="130.84" y="348.5" font-size="22.1" fill="#111111" stroke="#111111" stroke-width="0.32">MH</text><text x="165.21" y="356.7" font-size="22" fill="#111111" stroke="#111111" stroke-width="0.32">2</text><text x="177.45" y="348.5" font-size="22.1" fill="#111111" stroke="#111111" stroke-width="0.32">SO</text><text x="209.38" y="356.7" font-size="22" fill="#111111" stroke="#111111" stroke-width="0.32">4</text><text x="221.61" y="348.5" font-size="22.1" fill="#111111" stroke="#111111" stroke-width="0.32">/Fe</text><text x="253.54" y="341.5" font-size="22" fill="#111111" stroke="#111111" stroke-width="0.32">2+</text><text x="278.63" y="348.5" font-size="22.1" fill="#111111" stroke="#111111" stroke-width="0.32">/Fe</text><text x="310.56" y="341.5" font-size="22" fill="#111111" stroke="#111111" stroke-width="0.32">3+</text><text x="335.64" y="348.5" font-size="22.1" fill="#111111" stroke="#111111" stroke-width="0.32">/Coal</text></g>
<g id="text-b"><text x="714.8" y="431.2" font-size="18.7" fill="#1e1e1e" stroke="#1e1e1e" stroke-width="0.12">0</text>
<path transform="translate(800 431.2) scale(0.00913 -0.00913)" d="M763 0H583V1147Q518 1085 412.5 1023T223 930V1104Q374 1175 487 1276T647 1472H763Z" fill="#1e1e1e" stroke="#1e1e1e" stroke-width="13.14"/><text x="810.4" y="431.2" font-size="18.7" fill="#1e1e1e" stroke="#1e1e1e" stroke-width="0.12">0000</text>
<text x="906" y="431.2" font-size="18.7" fill="#1e1e1e" stroke="#1e1e1e" stroke-width="0.12">20000</text>
<text x="1012" y="431.2" font-size="18.7" fill="#1e1e1e" stroke="#1e1e1e" stroke-width="0.12">30000</text>
<text x="1118" y="431.2" font-size="18.7" fill="#1e1e1e" stroke="#1e1e1e" stroke-width="0.12">40000</text>
<text x="1224" y="431.2" font-size="18.7" fill="#1e1e1e" stroke="#1e1e1e" stroke-width="0.12">50000</text>
<text x="685.2" y="413" font-size="18.7" fill="#1e1e1e" stroke="#1e1e1e" stroke-width="0.12">0.0</text>
<text x="685.2" y="356.83" font-size="18.7" fill="#1e1e1e" stroke="#1e1e1e" stroke-width="0.12">0.2</text>
<text x="685.2" y="300.66" font-size="18.7" fill="#1e1e1e" stroke="#1e1e1e" stroke-width="0.12">0.4</text>
<text x="685.2" y="244.49" font-size="18.7" fill="#1e1e1e" stroke="#1e1e1e" stroke-width="0.12">0.6</text>
<text x="685.2" y="188.31" font-size="18.7" fill="#1e1e1e" stroke="#1e1e1e" stroke-width="0.12">0.8</text>
<path transform="translate(685.2 132.14) scale(0.00913 -0.00913)" d="M763 0H583V1147Q518 1085 412.5 1023T223 930V1104Q374 1175 487 1276T647 1472H763Z" fill="#1e1e1e" stroke="#1e1e1e" stroke-width="13.14"/><text x="695.6" y="132.14" font-size="18.7" fill="#1e1e1e" stroke="#1e1e1e" stroke-width="0.12">.0</text>
<path transform="translate(685.2 75.97) scale(0.00913 -0.00913)" d="M763 0H583V1147Q518 1085 412.5 1023T223 930V1104Q374 1175 487 1276T647 1472H763Z" fill="#1e1e1e" stroke="#1e1e1e" stroke-width="13.14"/><text x="695.6" y="75.97" font-size="18.7" fill="#1e1e1e" stroke="#1e1e1e" stroke-width="0.12">.2</text>
<path transform="translate(685.2 19.8) scale(0.00913 -0.00913)" d="M763 0H583V1147Q518 1085 412.5 1023T223 930V1104Q374 1175 487 1276T647 1472H763Z" fill="#1e1e1e" stroke="#1e1e1e" stroke-width="13.14"/><text x="695.6" y="19.8" font-size="18.7" fill="#1e1e1e" stroke="#1e1e1e" stroke-width="0.12">.4</text>
<g transform="translate(670.2 214.6) rotate(-90)"><text x="-55.03" y="0" font-size="22" fill="#111111" stroke="#111111" stroke-width="0.32">Voltage (V)</text></g>
<text x="884.39" y="459.1" font-size="22" fill="#111111" stroke="#111111" stroke-width="0.32">Polarization Time (s)</text>
<text x="735.4" y="44.6" font-size="29" fill="#111111" stroke="#111111" stroke-width="0.3" letter-spacing="0.8">(b)</text>
<path transform="translate(946.44 71) scale(0.00986 -0.00986)" d="M763 0H583V1147Q518 1085 412.5 1023T223 930V1104Q374 1175 487 1276T647 1472H763Z" fill="#0a0a0a" stroke="#0a0a0a" stroke-width="50.69"/>
<text x="1158.13" y="71.3" font-size="22" fill="#0a0a0a" stroke="#0a0a0a" stroke-width="0.5">2</text>
<text x="1059.12" y="168.1" font-size="22.1" fill="#111111" stroke="#111111" stroke-width="0.32">Polarization time</text>
<text x="1107.35" y="195.5" font-size="22.1" fill="#111111" stroke="#111111" stroke-width="0.32">4</text><path transform="translate(1119.64 195.5) scale(0.01079 -0.01079)" d="M763 0H583V1147Q518 1085 412.5 1023T223 930V1104Q374 1175 487 1276T647 1472H763Z" fill="#111111" stroke="#111111" stroke-width="29.65"/><text x="1131.93" y="195.5" font-size="22.1" fill="#111111" stroke="#111111" stroke-width="0.32">900s</text>
<text x="746" y="235" font-size="22.1" fill="#111111" stroke="#111111" stroke-width="0.32">Electrode:Pt-Co(7:3)</text>
<text x="746" y="261.3" font-size="22.1" fill="#111111" stroke="#111111" stroke-width="0.32">Electrolyte:</text>
<path transform="translate(746 293.3) scale(0.01079 -0.01079)" d="M763 0H583V1147Q518 1085 412.5 1023T223 930V1104Q374 1175 487 1276T647 1472H763Z" fill="#111111" stroke="#111111" stroke-width="29.65"/><text x="758.29" y="293.3" font-size="22.1" fill="#111111" stroke="#111111" stroke-width="0.32">-</text><path transform="translate(765.65 293.3) scale(0.01079 -0.01079)" d="M763 0H583V1147Q518 1085 412.5 1023T223 930V1104Q374 1175 487 1276T647 1472H763Z" fill="#111111" stroke="#111111" stroke-width="29.65"/><text x="777.94" y="293.3" font-size="22.1" fill="#111111" stroke="#111111" stroke-width="0.32">MH</text><text x="812.31" y="301.9" font-size="12.6" fill="#111111" stroke="#111111" stroke-width="0.32">2</text><text x="819.32" y="293.3" font-size="22.1" fill="#111111" stroke="#111111" stroke-width="0.32">SO</text><text x="851.25" y="301.9" font-size="12.6" fill="#111111" stroke="#111111" stroke-width="0.32">4</text><text x="858.26" y="293.3" font-size="22.1" fill="#111111" stroke="#111111" stroke-width="0.32">/Fe</text><text x="890.19" y="282.7" font-size="12.6" fill="#111111" stroke="#111111" stroke-width="0.32">2+</text><text x="904.55" y="293.3" font-size="22.1" fill="#111111" stroke="#111111" stroke-width="0.32">/Fe</text><text x="936.48" y="282.7" font-size="12.6" fill="#111111" stroke="#111111" stroke-width="0.32">3+</text>
<text x="746" y="330.6" font-size="22.1" fill="#111111" stroke="#111111" stroke-width="0.32">2-</text><path transform="translate(765.65 330.6) scale(0.01079 -0.01079)" d="M763 0H583V1147Q518 1085 412.5 1023T223 930V1104Q374 1175 487 1276T647 1472H763Z" fill="#111111" stroke="#111111" stroke-width="29.65"/><text x="777.94" y="330.6" font-size="22.1" fill="#111111" stroke="#111111" stroke-width="0.32">MH</text><text x="812.31" y="339.2" font-size="12.6" fill="#111111" stroke="#111111" stroke-width="0.32">2</text><text x="819.32" y="330.6" font-size="22.1" fill="#111111" stroke="#111111" stroke-width="0.32">SO</text><text x="851.25" y="339.2" font-size="12.6" fill="#111111" stroke="#111111" stroke-width="0.32">4</text><text x="858.26" y="330.6" font-size="22.1" fill="#111111" stroke="#111111" stroke-width="0.32">/Fe</text><text x="890.19" y="320" font-size="12.6" fill="#111111" stroke="#111111" stroke-width="0.32">2+</text><text x="904.55" y="330.6" font-size="22.1" fill="#111111" stroke="#111111" stroke-width="0.32">/Fe</text><text x="936.48" y="320" font-size="12.6" fill="#111111" stroke="#111111" stroke-width="0.32">3+</text><text x="950.85" y="330.6" font-size="22.1" fill="#111111" stroke="#111111" stroke-width="0.32">/Coal</text></g>
<g id="text-c"><text x="63.8" y="907" font-size="18.7" fill="#1e1e1e" stroke="#1e1e1e" stroke-width="0.12">0</text>
<path transform="translate(149.08 907) scale(0.00913 -0.00913)" d="M763 0H583V1147Q518 1085 412.5 1023T223 930V1104Q374 1175 487 1276T647 1472H763Z" fill="#1e1e1e" stroke="#1e1e1e" stroke-width="13.14"/><text x="159.48" y="907" font-size="18.7" fill="#1e1e1e" stroke="#1e1e1e" stroke-width="0.12">0000</text>
<text x="255.16" y="907" font-size="18.7" fill="#1e1e1e" stroke="#1e1e1e" stroke-width="0.12">20000</text>
<text x="361.24" y="907" font-size="18.7" fill="#1e1e1e" stroke="#1e1e1e" stroke-width="0.12">30000</text>
<text x="467.32" y="907" font-size="18.7" fill="#1e1e1e" stroke="#1e1e1e" stroke-width="0.12">40000</text>
<text x="573.4" y="907" font-size="18.7" fill="#1e1e1e" stroke="#1e1e1e" stroke-width="0.12">50000</text>
<text x="34.2" y="889" font-size="18.7" fill="#1e1e1e" stroke="#1e1e1e" stroke-width="0.12">0.0</text>
<text x="34.2" y="832.94" font-size="18.7" fill="#1e1e1e" stroke="#1e1e1e" stroke-width="0.12">0.2</text>
<text x="34.2" y="776.89" font-size="18.7" fill="#1e1e1e" stroke="#1e1e1e" stroke-width="0.12">0.4</text>
<text x="34.2" y="720.83" font-size="18.7" fill="#1e1e1e" stroke="#1e1e1e" stroke-width="0.12">0.6</text>
<text x="34.2" y="664.77" font-size="18.7" fill="#1e1e1e" stroke="#1e1e1e" stroke-width="0.12">0.8</text>
<path transform="translate(34.2 608.71) scale(0.00913 -0.00913)" d="M763 0H583V1147Q518 1085 412.5 1023T223 930V1104Q374 1175 487 1276T647 1472H763Z" fill="#1e1e1e" stroke="#1e1e1e" stroke-width="13.14"/><text x="44.6" y="608.71" font-size="18.7" fill="#1e1e1e" stroke="#1e1e1e" stroke-width="0.12">.0</text>
<path transform="translate(34.2 552.66) scale(0.00913 -0.00913)" d="M763 0H583V1147Q518 1085 412.5 1023T223 930V1104Q374 1175 487 1276T647 1472H763Z" fill="#1e1e1e" stroke="#1e1e1e" stroke-width="13.14"/><text x="44.6" y="552.66" font-size="18.7" fill="#1e1e1e" stroke="#1e1e1e" stroke-width="0.12">.2</text>
<path transform="translate(34.2 496.6) scale(0.00913 -0.00913)" d="M763 0H583V1147Q518 1085 412.5 1023T223 930V1104Q374 1175 487 1276T647 1472H763Z" fill="#1e1e1e" stroke="#1e1e1e" stroke-width="13.14"/><text x="44.6" y="496.6" font-size="18.7" fill="#1e1e1e" stroke="#1e1e1e" stroke-width="0.12">.4</text>
<g transform="translate(19.4 690.9) rotate(-90)"><text x="-55.03" y="0" font-size="22" fill="#111111" stroke="#111111" stroke-width="0.32">Voltage (V)</text></g>
<text x="233.64" y="934.25" font-size="22" fill="#111111" stroke="#111111" stroke-width="0.32">Polarization Time (s)</text>
<text x="86" y="525.9" font-size="29" fill="#111111" stroke="#111111" stroke-width="0.3" letter-spacing="0.8">(c)</text>
<path transform="translate(295.44 546) scale(0.00986 -0.00986)" d="M763 0H583V1147Q518 1085 412.5 1023T223 930V1104Q374 1175 487 1276T647 1472H763Z" fill="#0a0a0a" stroke="#0a0a0a" stroke-width="50.69"/>
<text x="565.88" y="545.4" font-size="22" fill="#0a0a0a" stroke="#0a0a0a" stroke-width="0.5">2</text>
<text x="431.32" y="643.1" font-size="22.1" fill="#111111" stroke="#111111" stroke-width="0.32">Polarization time</text>
<text x="473.15" y="670.5" font-size="22.1" fill="#111111" stroke="#111111" stroke-width="0.32">47</text><path transform="translate(497.73 670.5) scale(0.01079 -0.01079)" d="M763 0H583V1147Q518 1085 412.5 1023T223 930V1104Q374 1175 487 1276T647 1472H763Z" fill="#111111" stroke="#111111" stroke-width="29.65"/><text x="510.02" y="670.5" font-size="22.1" fill="#111111" stroke="#111111" stroke-width="0.32">45s</text>
<text x="107.6" y="713.9" font-size="22.1" fill="#111111" stroke="#111111" stroke-width="0.32">Electrode:Pt-Co(</text><path transform="translate(270.95 713.9) scale(0.01079 -0.01079)" d="M763 0H583V1147Q518 1085 412.5 1023T223 930V1104Q374 1175 487 1276T647 1472H763Z" fill="#111111" stroke="#111111" stroke-width="29.65"/><text x="283.25" y="713.9" font-size="22.1" fill="#111111" stroke="#111111" stroke-width="0.32">:</text><path transform="translate(289.39 713.9) scale(0.01079 -0.01079)" d="M763 0H583V1147Q518 1085 412.5 1023T223 930V1104Q374 1175 487 1276T647 1472H763Z" fill="#111111" stroke="#111111" stroke-width="29.65"/><text x="301.68" y="713.9" font-size="22.1" fill="#111111" stroke="#111111" stroke-width="0.32">)</text>
<text x="107.6" y="740.5" font-size="22.1" fill="#111111" stroke="#111111" stroke-width="0.32">Electrolyte:</text>
<path transform="translate(107.6 780.5) scale(0.01079 -0.01079)" d="M763 0H583V1147Q518 1085 412.5 1023T223 930V1104Q374 1175 487 1276T647 1472H763Z" fill="#111111" stroke="#111111" stroke-width="29.65"/><text x="119.89" y="780.5" font-size="22.1" fill="#111111" stroke="#111111" stroke-width="0.32">-</text><path transform="translate(127.25 780.5) scale(0.01079 -0.01079)" d="M763 0H583V1147Q518 1085 412.5 1023T223 930V1104Q374 1175 487 1276T647 1472H763Z" fill="#111111" stroke="#111111" stroke-width="29.65"/><text x="139.54" y="780.5" font-size="22.1" fill="#111111" stroke="#111111" stroke-width="0.32">MH</text><text x="173.91" y="788.7" font-size="22" fill="#111111" stroke="#111111" stroke-width="0.32">2</text><text x="186.15" y="780.5" font-size="22.1" fill="#111111" stroke="#111111" stroke-width="0.32">SO</text><text x="218.08" y="788.7" font-size="22" fill="#111111" stroke="#111111" stroke-width="0.32">4</text><text x="230.31" y="780.5" font-size="22.1" fill="#111111" stroke="#111111" stroke-width="0.32">/Fe</text><text x="262.24" y="773.5" font-size="22" fill="#111111" stroke="#111111" stroke-width="0.32">2+</text><text x="287.33" y="780.5" font-size="22.1" fill="#111111" stroke="#111111" stroke-width="0.32">/Fe</text><text x="319.26" y="773.5" font-size="22" fill="#111111" stroke="#111111" stroke-width="0.32">3+</text>
<text x="107.6" y="826.5" font-size="22.1" fill="#111111" stroke="#111111" stroke-width="0.32">2-</text><path transform="translate(127.25 826.5) scale(0.01079 -0.01079)" d="M763 0H583V1147Q518 1085 412.5 1023T223 930V1104Q374 1175 487 1276T647 1472H763Z" fill="#111111" stroke="#111111" stroke-width="29.65"/><text x="139.54" y="826.5" font-size="22.1" fill="#111111" stroke="#111111" stroke-width="0.32">MH</text><text x="173.91" y="834.7" font-size="22" fill="#111111" stroke="#111111" stroke-width="0.32">2</text><text x="186.15" y="826.5" font-size="22.1" fill="#111111" stroke="#111111" stroke-width="0.32">SO</text><text x="218.08" y="834.7" font-size="22" fill="#111111" stroke="#111111" stroke-width="0.32">4</text><text x="230.31" y="826.5" font-size="22.1" fill="#111111" stroke="#111111" stroke-width="0.32">/Fe</text><text x="262.24" y="819.5" font-size="22" fill="#111111" stroke="#111111" stroke-width="0.32">2+</text><text x="287.33" y="826.5" font-size="22.1" fill="#111111" stroke="#111111" stroke-width="0.32">/Fe</text><text x="319.26" y="819.5" font-size="22" fill="#111111" stroke="#111111" stroke-width="0.32">3+</text><text x="344.34" y="826.5" font-size="22.1" fill="#111111" stroke="#111111" stroke-width="0.32">/Coal</text></g>
<g id="text-d"><text x="717.9" y="906.1" font-size="18.7" fill="#1e1e1e" stroke="#1e1e1e" stroke-width="0.12">0</text>
<path transform="translate(802.88 906.1) scale(0.00913 -0.00913)" d="M763 0H583V1147Q518 1085 412.5 1023T223 930V1104Q374 1175 487 1276T647 1472H763Z" fill="#1e1e1e" stroke="#1e1e1e" stroke-width="13.14"/><text x="813.28" y="906.1" font-size="18.7" fill="#1e1e1e" stroke="#1e1e1e" stroke-width="0.12">0000</text>
<text x="908.66" y="906.1" font-size="18.7" fill="#1e1e1e" stroke="#1e1e1e" stroke-width="0.12">20000</text>
<text x="1014.44" y="906.1" font-size="18.7" fill="#1e1e1e" stroke="#1e1e1e" stroke-width="0.12">30000</text>
<text x="1120.22" y="906.1" font-size="18.7" fill="#1e1e1e" stroke="#1e1e1e" stroke-width="0.12">40000</text>
<text x="1226" y="906.1" font-size="18.7" fill="#1e1e1e" stroke="#1e1e1e" stroke-width="0.12">50000</text>
<text x="688.3" y="887.8" font-size="18.7" fill="#1e1e1e" stroke="#1e1e1e" stroke-width="0.12">0.0</text>
<text x="688.3" y="831.84" font-size="18.7" fill="#1e1e1e" stroke="#1e1e1e" stroke-width="0.12">0.2</text>
<text x="688.3" y="775.89" font-size="18.7" fill="#1e1e1e" stroke="#1e1e1e" stroke-width="0.12">0.4</text>
<text x="688.3" y="719.93" font-size="18.7" fill="#1e1e1e" stroke="#1e1e1e" stroke-width="0.12">0.6</text>
<text x="688.3" y="663.97" font-size="18.7" fill="#1e1e1e" stroke="#1e1e1e" stroke-width="0.12">0.8</text>
<path transform="translate(688.3 608.01) scale(0.00913 -0.00913)" d="M763 0H583V1147Q518 1085 412.5 1023T223 930V1104Q374 1175 487 1276T647 1472H763Z" fill="#1e1e1e" stroke="#1e1e1e" stroke-width="13.14"/><text x="698.7" y="608.01" font-size="18.7" fill="#1e1e1e" stroke="#1e1e1e" stroke-width="0.12">.0</text>
<path transform="translate(688.3 552.06) scale(0.00913 -0.00913)" d="M763 0H583V1147Q518 1085 412.5 1023T223 930V1104Q374 1175 487 1276T647 1472H763Z" fill="#1e1e1e" stroke="#1e1e1e" stroke-width="13.14"/><text x="698.7" y="552.06" font-size="18.7" fill="#1e1e1e" stroke="#1e1e1e" stroke-width="0.12">.2</text>
<path transform="translate(688.3 496.1) scale(0.00913 -0.00913)" d="M763 0H583V1147Q518 1085 412.5 1023T223 930V1104Q374 1175 487 1276T647 1472H763Z" fill="#1e1e1e" stroke="#1e1e1e" stroke-width="13.14"/><text x="698.7" y="496.1" font-size="18.7" fill="#1e1e1e" stroke="#1e1e1e" stroke-width="0.12">.4</text>
<g transform="translate(677.4 690.9) rotate(-90)"><text x="-59.53" y="0" font-size="23.8" fill="#111111" stroke="#111111" stroke-width="0.32">Voltage (V)</text></g>
<text x="878.89" y="934.7" font-size="23.8" fill="#111111" stroke="#111111" stroke-width="0.32">Polarization Time (s)</text>
<text x="741" y="524" font-size="29" fill="#111111" stroke="#111111" stroke-width="0.3" letter-spacing="0.8">(d)</text>
<path transform="translate(951.14 547.4) scale(0.00986 -0.00986)" d="M763 0H583V1147Q518 1085 412.5 1023T223 930V1104Q374 1175 487 1276T647 1472H763Z" fill="#0a0a0a" stroke="#0a0a0a" stroke-width="50.69"/>
<text x="1156.88" y="548.3" font-size="22" fill="#0a0a0a" stroke="#0a0a0a" stroke-width="0.5">2</text>
<text x="1081.92" y="639.9" font-size="22.1" fill="#111111" stroke="#111111" stroke-width="0.32">Polarization time</text>
<text x="1124.35" y="666.1" font-size="22.1" fill="#111111" stroke="#111111" stroke-width="0.32">4</text><path transform="translate(1136.64 666.1) scale(0.01079 -0.01079)" d="M763 0H583V1147Q518 1085 412.5 1023T223 930V1104Q374 1175 487 1276T647 1472H763Z" fill="#111111" stroke="#111111" stroke-width="29.65"/><text x="1148.93" y="666.1" font-size="22.1" fill="#111111" stroke="#111111" stroke-width="0.32">360s</text>
<text x="757.4" y="711.5" font-size="22.1" fill="#111111" stroke="#111111" stroke-width="0.32">Electrode:Pt-Co(3:7)</text>
<text x="757.4" y="738.1" font-size="22.1" fill="#111111" stroke="#111111" stroke-width="0.32">Electrolyte:</text>
<path transform="translate(757.4 776.9) scale(0.01079 -0.01079)" d="M763 0H583V1147Q518 1085 412.5 1023T223 930V1104Q374 1175 487 1276T647 1472H763Z" fill="#111111" stroke="#111111" stroke-width="29.65"/><text x="769.69" y="776.9" font-size="22.1" fill="#111111" stroke="#111111" stroke-width="0.32">-</text><path transform="translate(777.05 776.9) scale(0.01079 -0.01079)" d="M763 0H583V1147Q518 1085 412.5 1023T223 930V1104Q374 1175 487 1276T647 1472H763Z" fill="#111111" stroke="#111111" stroke-width="29.65"/><text x="789.34" y="776.9" font-size="22.1" fill="#111111" stroke="#111111" stroke-width="0.32">MH</text><text x="823.71" y="785.1" font-size="22" fill="#111111" stroke="#111111" stroke-width="0.32">2</text><text x="835.95" y="776.9" font-size="22.1" fill="#111111" stroke="#111111" stroke-width="0.32">SO</text><text x="867.88" y="785.1" font-size="22" fill="#111111" stroke="#111111" stroke-width="0.32">4</text><text x="880.11" y="776.9" font-size="22.1" fill="#111111" stroke="#111111" stroke-width="0.32">/Fe</text><text x="912.04" y="769.9" font-size="22" fill="#111111" stroke="#111111" stroke-width="0.32">2+</text><text x="937.13" y="776.9" font-size="22.1" fill="#111111" stroke="#111111" stroke-width="0.32">/Fe</text><text x="969.06" y="769.9" font-size="22" fill="#111111" stroke="#111111" stroke-width="0.32">3+</text>
<text x="757.4" y="822.9" font-size="22.1" fill="#111111" stroke="#111111" stroke-width="0.32">2-</text><path transform="translate(777.05 822.9) scale(0.01079 -0.01079)" d="M763 0H583V1147Q518 1085 412.5 1023T223 930V1104Q374 1175 487 1276T647 1472H763Z" fill="#111111" stroke="#111111" stroke-width="29.65"/><text x="789.34" y="822.9" font-size="22.1" fill="#111111" stroke="#111111" stroke-width="0.32">MH</text><text x="823.71" y="831.1" font-size="22" fill="#111111" stroke="#111111" stroke-width="0.32">2</text><text x="835.95" y="822.9" font-size="22.1" fill="#111111" stroke="#111111" stroke-width="0.32">SO</text><text x="867.88" y="831.1" font-size="22" fill="#111111" stroke="#111111" stroke-width="0.32">4</text><text x="880.11" y="822.9" font-size="22.1" fill="#111111" stroke="#111111" stroke-width="0.32">/Fe</text><text x="912.04" y="815.9" font-size="22" fill="#111111" stroke="#111111" stroke-width="0.32">2+</text><text x="937.13" y="822.9" font-size="22.1" fill="#111111" stroke="#111111" stroke-width="0.32">/Fe</text><text x="969.06" y="815.9" font-size="22" fill="#111111" stroke="#111111" stroke-width="0.32">3+</text><text x="994.14" y="822.9" font-size="22.1" fill="#111111" stroke="#111111" stroke-width="0.32">/Coal</text></g></g>
</svg>
</body></html>
